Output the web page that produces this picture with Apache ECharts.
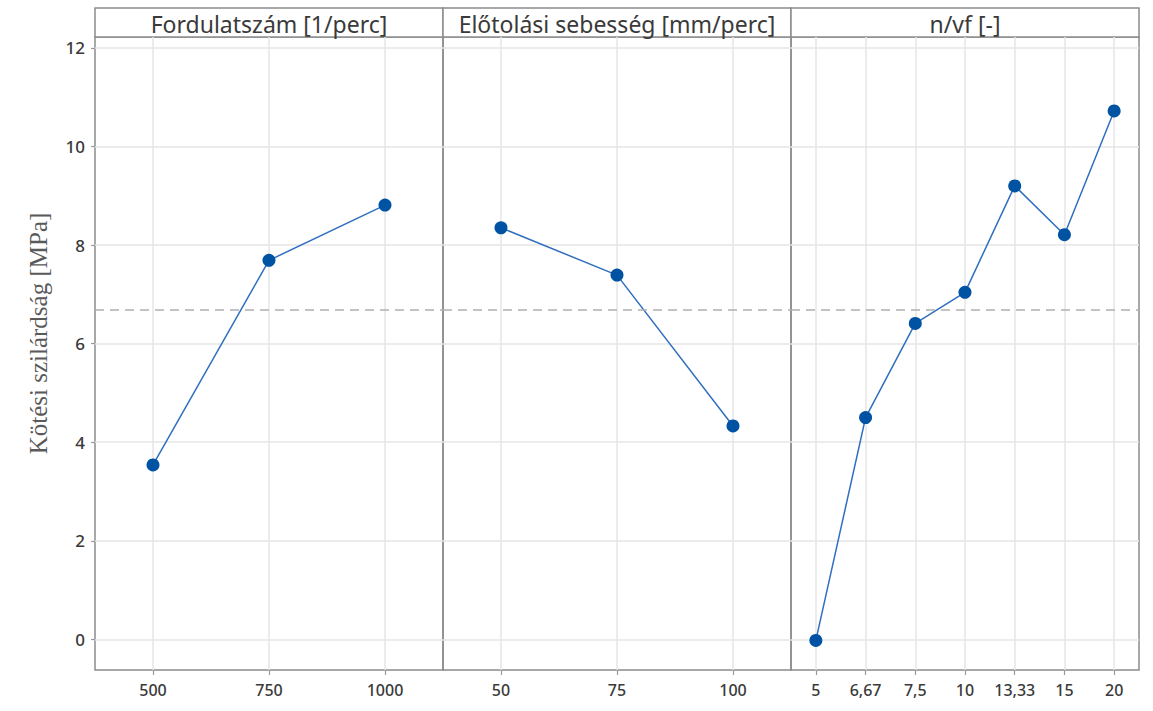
<!DOCTYPE html>
<html><head><meta charset="utf-8">
<script src="https://cdn.jsdelivr.net/npm/echarts@6/dist/echarts.min.js"></script>
<style>html,body{margin:0;padding:0;background:#fff}#c{width:1153px;height:711px}</style>
</head><body><div id="c"></div>
<script>
const panelTitles = ['Fordulatszám [1/perc]', 'Előtolási sebesség [mm/perc]', 'n/vf [-]'];
const cats1 = ['500', '750', '1000'];
const vals1 = [3.54, 7.69, 8.81];
const cats2 = ['50', '75', '100'];
const vals2 = [8.35, 7.39, 4.33];
const cats3 = ['5', '6,67', '7,5', '10', '13,33', '15', '20'];
const vals3 = [-0.02, 4.50, 6.41, 7.04, 9.20, 8.21, 10.72];
const yTicks = [0, 2, 4, 6, 8, 10, 12];
const grandMean = 6.69;
const yName = 'Kötési szilárdság [MPa]';

const cats = [cats1, cats2, cats3];
const vals = [vals1, vals2, vals3];
const L = 95, W = 348, TOP = 37, BOT = 41, HTOP = 8;
const frameColor = '#8c8c8c';
const labelFont = {color: '#3a3a3a', fontFamily: 'Noto Sans', fontWeight: 500};
const grids = [], xAxes = [], yAxes = [], series = [], graphics = [];
for (let i = 0; i < 3; i++) {
  grids.push({left: L + W * i, width: W, top: TOP, bottom: BOT, show: true,
    borderColor: frameColor, borderWidth: 1.5, backgroundColor: 'transparent'});
  xAxes.push({type: 'category', gridIndex: i, data: cats[i], boundaryGap: true,
    axisLine: {show: false, onZero: false},
    axisTick: {show: true, interval: 0, alignWithLabel: true, length: 5, lineStyle: {color: '#999', width: 1.2}},
    splitLine: {show: true, interval: 0, alignWithLabel: true, lineStyle: {color: '#e6e6e6', width: 1.5}},
    axisLabel: Object.assign({margin: 12, interval: 0, fontSize: 16, hideOverlap: false}, labelFont)});
  yAxes.push({type: 'value', gridIndex: i, min: -0.62, max: 12.22,
    axisLine: {show: false},
    axisTick: {show: i === 0, length: 4, customValues: yTicks, lineStyle: {color: '#999', width: 1.2}},
    axisLabel: Object.assign({show: i === 0, customValues: yTicks, margin: 10, fontSize: 17}, labelFont),
    splitLine: {show: true, lineStyle: {color: '#e6e6e6', width: 1.5}},
    name: i === 0 ? yName : '', nameLocation: 'middle', nameGap: 44,
    nameTextStyle: {fontFamily: 'Liberation Serif', fontSize: 25, color: '#5a5a5a', padding: [0, 0, 0, 40]}});
  series.push({type: 'line', xAxisIndex: i, yAxisIndex: i, data: vals[i],
    symbol: 'circle', symbolSize: 13,
    itemStyle: {color: '#0052a3'},
    lineStyle: {color: '#2f6fbf', width: 1.5},
    markLine: {silent: true, symbol: 'none', label: {show: false},
      lineStyle: {type: [9, 6], color: '#b0b0b0', width: 1.5},
      data: [{yAxis: grandMean}]}});
  graphics.push({type: 'rect', shape: {x: L + W * i, y: HTOP, width: W, height: TOP - HTOP},
    style: {fill: '#fff', stroke: frameColor, lineWidth: 1.5}});
  graphics.push({type: 'text', x: L + W * i + W / 2, y: HTOP + (TOP - HTOP) / 2 + 1,
    style: {text: panelTitles[i], fill: '#3a3a3a', font: '23px "Noto Sans"', textAlign: 'center', textVerticalAlign: 'middle'}});
}
const chart = echarts.init(document.getElementById('c'), null, {renderer: 'svg'});
chart.setOption({
  animation: false,
  grid: grids, xAxis: xAxes, yAxis: yAxes, series: series, graphic: graphics
});
</script></body></html>
